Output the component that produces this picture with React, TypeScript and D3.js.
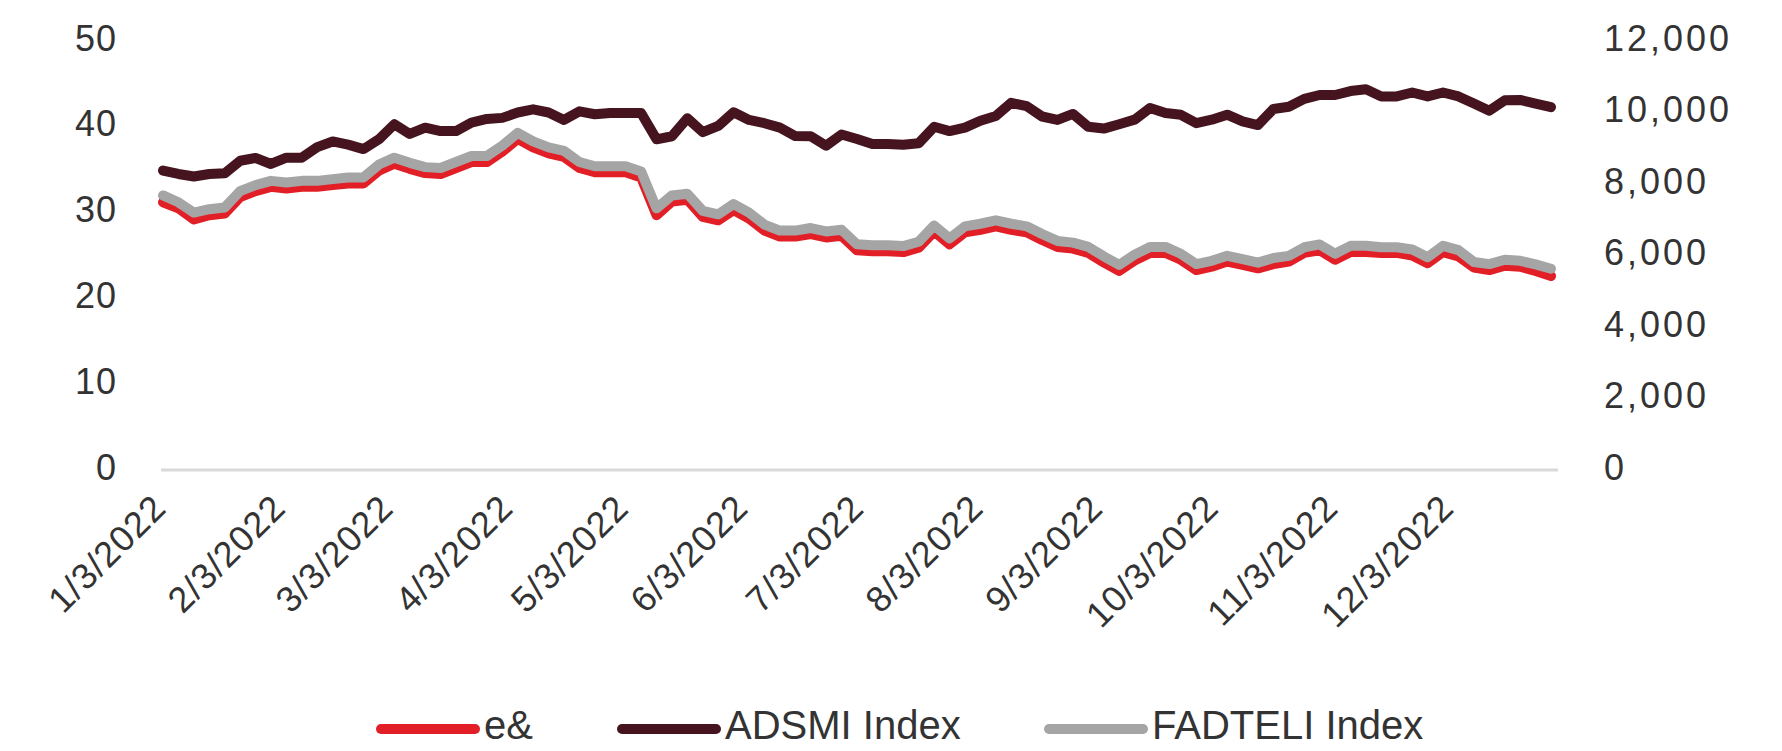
import React from 'react';
import * as d3 from 'd3';

const dates = [
	'2022-01-03', '2022-01-07', '2022-01-11', '2022-01-15', '2022-01-19', '2022-01-23', '2022-01-27', '2022-01-31',
	'2022-02-04', '2022-02-08', '2022-02-12', '2022-02-16', '2022-02-20', '2022-02-24', '2022-02-28',
	'2022-03-04', '2022-03-08', '2022-03-12', '2022-03-16', '2022-03-20', '2022-03-24', '2022-03-28',
	'2022-04-01', '2022-04-05', '2022-04-09', '2022-04-13', '2022-04-17', '2022-04-21', '2022-04-25', '2022-04-29',
	'2022-05-03', '2022-05-07', '2022-05-11', '2022-05-15', '2022-05-19', '2022-05-23', '2022-05-27', '2022-05-31',
	'2022-06-04', '2022-06-08', '2022-06-12', '2022-06-16', '2022-06-20', '2022-06-24', '2022-06-28',
	'2022-07-02', '2022-07-06', '2022-07-10', '2022-07-14', '2022-07-18', '2022-07-22', '2022-07-26', '2022-07-30',
	'2022-08-03', '2022-08-07', '2022-08-11', '2022-08-15', '2022-08-19', '2022-08-23', '2022-08-27', '2022-08-31',
	'2022-09-04', '2022-09-08', '2022-09-12', '2022-09-16', '2022-09-20', '2022-09-24', '2022-09-28',
	'2022-10-02', '2022-10-06', '2022-10-10', '2022-10-14', '2022-10-18', '2022-10-22', '2022-10-26', '2022-10-30',
	'2022-11-03', '2022-11-07', '2022-11-11', '2022-11-15', '2022-11-19', '2022-11-23', '2022-11-27',
	'2022-12-01', '2022-12-05', '2022-12-09', '2022-12-13', '2022-12-17', '2022-12-21', '2022-12-25', '2022-12-29',
];

// e& share price (left axis)
const eAnd = [
	31.2, 30.5, 29.2, 29.7, 29.9, 31.8, 32.5, 33.0,
	32.8, 33.0, 33.0, 33.2, 33.4, 33.4, 34.9,
	35.7, 35.1, 34.6, 34.5, 35.2, 35.9, 35.9,
	37.1, 38.6, 37.6, 36.9, 36.5, 35.2, 34.7, 34.7,
	34.7, 34.1, 29.7, 31.3, 31.5, 29.5, 29.1, 30.3,
	29.3, 27.9, 27.2, 27.2, 27.5, 27.1, 27.3,
	25.6, 25.5, 25.5, 25.4, 25.9, 27.8, 26.3, 27.7,
	28.0, 28.4, 28.0, 27.7, 26.8, 26.0, 25.8, 25.3,
	24.2, 23.2, 24.4, 25.3, 25.3, 24.5, 23.3,
	23.7, 24.3, 23.9, 23.5, 24.0, 24.3, 25.3, 25.6,
	24.5, 25.4, 25.4, 25.3, 25.3, 25.0, 24.1,
	25.4, 24.9, 23.6, 23.3, 23.8, 23.7, 23.2, 22.6,
];

// ADSMI index (right axis)
const adsmi = [
	8376, 8280, 8210, 8280, 8300, 8650, 8730, 8560,
	8736, 8736, 9030, 9190, 9100, 8976, 9250,
	9672, 9400, 9576, 9480, 9480, 9720, 9820,
	9850, 10000, 10090, 10000, 9792, 10032, 9950, 9984,
	9984, 9984, 9250, 9336, 9840, 9450, 9624, 10008,
	9792, 9700, 9576, 9340, 9336, 9072, 9384,
	9260, 9120, 9120, 9100, 9140, 9600, 9480, 9576,
	9770, 9900, 10272, 10176, 9888, 9792, 9960, 9600,
	9550, 9672, 9800, 10128, 9984, 9936, 9700,
	9800, 9940, 9750, 9650, 10100, 10160, 10380, 10490,
	10490, 10600, 10650, 10450, 10450, 10560, 10450,
	10560, 10450, 10250, 10050, 10340, 10350, 10250, 10150,
];

// FADTELI index (right axis)
const fadteli = [
	7680, 7488, 7200, 7296, 7344, 7800, 7968, 8088,
	8040, 8088, 8088, 8136, 8184, 8184, 8544,
	8736, 8592, 8472, 8448, 8616, 8784, 8784,
	9072, 9432, 9192, 9024, 8928, 8616, 8496, 8496,
	8496, 8352, 7320, 7680, 7728, 7248, 7152, 7440,
	7200, 6864, 6696, 6696, 6768, 6672, 6720,
	6312, 6288, 6288, 6264, 6384, 6840, 6480, 6816,
	6888, 6984, 6888, 6816, 6600, 6408, 6360, 6240,
	5976, 5736, 6024, 6240, 6240, 6048, 5760,
	5850, 5990, 5900, 5800, 5930, 5990, 6230, 6310,
	6050, 6270, 6270, 6230, 6230, 6170, 5950,
	6270, 6150, 5820, 5760, 5880, 5850, 5750, 5630,
];

const xTickLabels = [
	'1/3/2022', '2/3/2022', '3/3/2022', '4/3/2022', '5/3/2022', '6/3/2022',
	'7/3/2022', '8/3/2022', '9/3/2022', '10/3/2022', '11/3/2022', '12/3/2022',
];
const leftTicks = [0, 10, 20, 30, 40, 50];
const rightTicks = [0, 2000, 4000, 6000, 8000, 10000, 12000];

const names = ['e&', 'ADSMI Index', 'FADTELI Index'];
const colors = ['#e21f26', '#45141f', '#a5a5a5'];

const FONT = '"Liberation Sans", Arial, sans-serif';
const TEXT = '#333333';

const dim = { w: 1782, h: 751, l: 163, r: 1551, t: 41, b: 470 };

const App = () => {
	const parse = d3.timeParse('%Y-%m-%d');
	const parseTick = d3.timeParse('%m/%d/%Y');
	const dts = dates.map((d) => parse(d));

	const x = d3.scaleTime().domain([ dts[0], dts[dts.length - 1] ]).range([ dim.l, dim.r ]);
	const yL = d3.scaleLinear().domain([ 0, 50 ]).range([ dim.b, dim.t ]);
	const yR = d3.scaleLinear().domain([ 0, 12000 ]).range([ dim.b, dim.t ]);

	const series = [
		{ values: eAnd, scale: yL },
		{ values: adsmi, scale: yR },
		{ values: fadteli, scale: yR },
	];

	const legendX = [ 376, 617, 1044 ];
	const legendLen = 104;

	return (
		<svg width={dim.w} height={dim.h} style={{ position: 'absolute', left: 0, top: 0, background: '#fff' }}>
			<line x1={dim.l - 2} x2={dim.r + 7} y1={dim.b} y2={dim.b} stroke="#d9d9d9" strokeWidth={3} />

			{leftTicks.map((t) => (
				<text key={t} x={117} y={yL(t) - 3} textAnchor="end" dominantBaseline="central"
					fontFamily={FONT} fontSize={36} fill={TEXT} letterSpacing={1}>
					{t}
				</text>
			))}
			{rightTicks.map((t) => (
				<text key={t} x={1604} y={yR(t) - 3} textAnchor="start" dominantBaseline="central"
					fontFamily={FONT} fontSize={36} fill={TEXT} letterSpacing={3}>
					{d3.format(',')(t)}
				</text>
			))}

			{xTickLabels.map((lab) => {
				const px = x(parseTick(lab)) + 5;
				const py = 510;
				return (
					<text key={lab} x={px} y={py} textAnchor="end" transform={`rotate(-45, ${px}, ${py})`}
						fontFamily={FONT} fontSize={36} fill={TEXT} letterSpacing={1}>
						{lab}
					</text>
				);
			})}

			{series.map((s, i) => {
				const line = d3.line<number>().x((d, j) => x(dts[j])).y((d) => s.scale(d));
				return (
					<path key={i} d={line(s.values)} fill="none" stroke={colors[i]} strokeWidth={10}
						strokeLinejoin="round" strokeLinecap="round" />
				);
			})}

			{names.map((n, i) => (
				<g key={n}>
					<line x1={legendX[i] + 5} x2={legendX[i] + legendLen - 5} y1={729} y2={729}
						stroke={colors[i]} strokeWidth={10} strokeLinecap="round" />
					<text x={legendX[i] + legendLen + 4} y={739} fontFamily={FONT} fontSize={40} fill={TEXT}>
						{n}
					</text>
				</g>
			))}
		</svg>
	);
};

export default App;
